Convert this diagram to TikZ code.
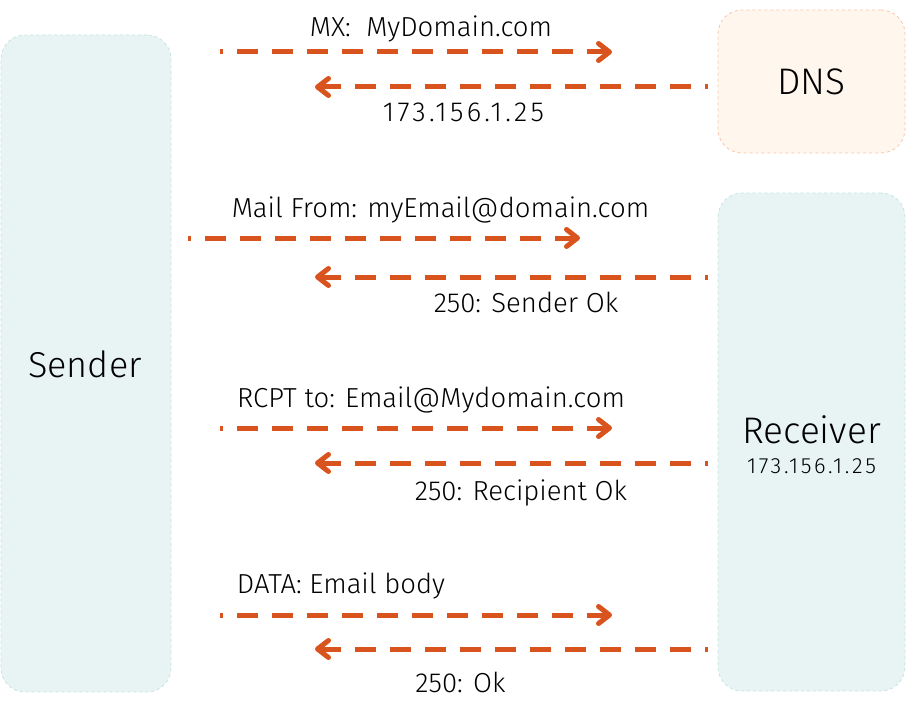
\documentclass[tikz,border=0pt]{standalone}
\usepackage{fontspec}
\setmainfont{Fira Sans}[UprightFont=* Light]
\usetikzlibrary{arrows.meta}
\definecolor{arrowc}{HTML}{D9531E}
\definecolor{tealfill}{HTML}{E8F4F4}
\definecolor{tealline}{HTML}{C5E4E0}
\definecolor{dnsfill}{HTML}{FFF7EE}
\definecolor{dnsline}{HTML}{F9C4A6}
\newcommand{\ipfmt}{\addfontfeatures{LetterSpace=12}}
\begin{document}
\begin{tikzpicture}[x=1bp,y=-1bp,
  box/.style={dashed, line width=0.8bp, rounded corners=24bp, inner sep=0pt, anchor=center},
  tealbox/.style={box, fill=tealfill, draw=tealline},
  dnsbox/.style={box, fill=dnsfill, draw=dnsline},
  msg/.style={draw=arrowc, line width=5bp, dash pattern=on 21bp off 14bp, dash phase=18bp,
    -{Straight Barb[length=11bp,width=17bp,line cap=round,line join=round]}},
  lbl/.style={font=\fontsize{27.5bp}{32bp}\selectfont, anchor=base, inner sep=0pt},
  big/.style={font=\fontsize{37bp}{44bp}\selectfont, anchor=base, inner sep=0pt},
  small/.style={font=\fontsize{22bp}{26bp}\selectfont, anchor=base, inner sep=0pt}]
\useasboundingbox (0,0) rectangle (906,717);
% boxes
\node[tealbox, minimum width=170bp, minimum height=657bp] (sender) at (86,363.5) {};
\node[dnsbox, minimum width=187bp, minimum height=143bp] (dns) at (811.5,81.5) {};
\node[tealbox, minimum width=187bp, minimum height=498bp] (receiver) at (811.5,442) {};
\node[big, font=\fontsize{36bp}{44bp}\selectfont] (sendername) at (85,377) {Sender};
\node[big] (dnsname) at (811.5,95) {DNS};
\node[big] (receivername) at (811.5,443) {Receiver};
\node[small] (receiverip) at (811.5,473) {\ipfmt 173.156.1.25};
% arrow end points
\coordinate (a1s) at (220,52);  \coordinate (a1e) at (612,52);
\coordinate (a2s) at (708,87);  \coordinate (a2e) at (315,87);
\coordinate (a3s) at (188,238); \coordinate (a3e) at (580,238);
\coordinate (a4s) at (708,277); \coordinate (a4e) at (315,277);
\coordinate (a5s) at (220,428); \coordinate (a5e) at (612,428);
\coordinate (a6s) at (708,463); \coordinate (a6e) at (315,463);
\coordinate (a7s) at (220,615); \coordinate (a7e) at (612,615);
\coordinate (a8s) at (708,649); \coordinate (a8e) at (315,649);
\draw[msg] (a1s) -- (a1e);
\draw[msg] (a2s) -- (a2e);
\draw[msg] (a3s) -- (a3e);
\draw[msg] (a4s) -- (a4e);
\draw[msg] (a5s) -- (a5e);
\draw[msg] (a6s) -- (a6e);
\draw[msg] (a7s) -- (a7e);
\draw[msg] (a8s) -- (a8e);
% labels
\node[lbl] (l1) at (431,37) {MX:\ \ MyDomain.com};
\node[lbl] (l2) at (463.5,122) {\ipfmt 173.156.1.25};
\node[lbl] (l3) at (440.5,217) {Mail From: myEmail@domain.com};
\node[lbl] (l4) at (526,312) {250: Sender Ok};
\node[lbl] (l5) at (431,407) {RCPT to: Email@Mydomain.com};
\node[lbl] (l6) at (521,500) {250: Recipient Ok};
\node[lbl] (l7) at (341,593) {DATA: Email body};
\node[lbl] (l8) at (460.5,692) {250: Ok};
\end{tikzpicture}
\end{document}
